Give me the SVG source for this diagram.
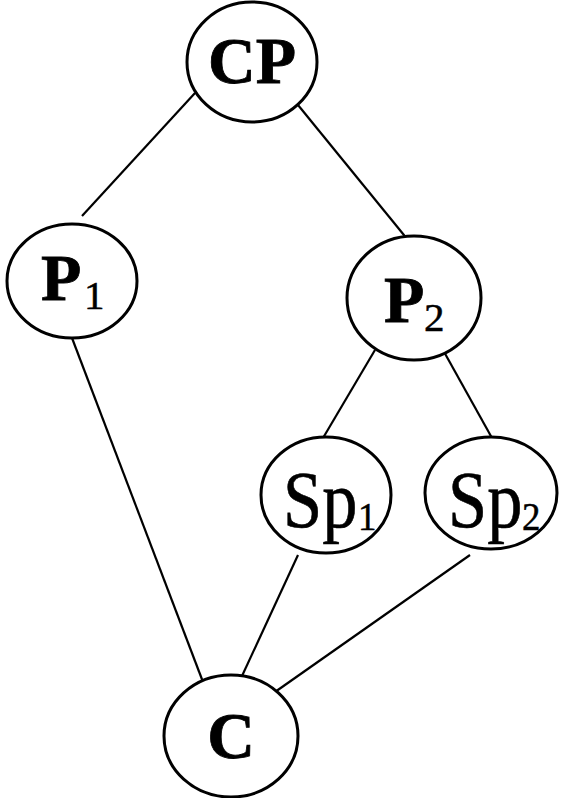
<svg xmlns="http://www.w3.org/2000/svg" width="568" height="798" viewBox="0 0 568 798">
<style>
.n{fill:#fff;stroke:#000;stroke-width:3}
.e line{stroke:#000;stroke-width:2.2}
text{font-family:'Liberation Serif','Times New Roman',serif;fill:#000;stroke:#000}
.b{font-weight:bold;font-size:66px;stroke-width:0.8}
.r{font-size:80px;stroke-width:0.6}
.s{font-size:41px;stroke-width:0.5}
</style>
<rect width="568" height="798" fill="#fff"/>
<g class="e" id="edges">
<line x1="195" y1="93" x2="82" y2="216"/>
<line x1="298" y1="105" x2="408" y2="240"/>
<line x1="72" y1="338" x2="203" y2="682"/>
<line x1="375" y1="350" x2="323" y2="438"/>
<line x1="443" y1="350" x2="492" y2="438"/>
<line x1="298" y1="555" x2="242" y2="676"/>
<line x1="470" y1="555" x2="275" y2="692"/>
</g>
<g id="CP"><ellipse class="n" cx="252" cy="62" rx="65" ry="60"/><text class="b" x="252" y="83" text-anchor="middle">CP</text></g>
<g id="P1"><ellipse class="n" cx="72" cy="281" rx="65" ry="57"/><text class="b" x="41" y="300">P</text><text class="s" x="84" y="309">1</text></g>
<g id="P2"><ellipse class="n" cx="414" cy="298" rx="67" ry="62"/><text class="b" x="384" y="322">P</text><text class="s" x="424" y="331">2</text></g>
<g id="Sp1"><ellipse class="n" cx="326" cy="495" rx="65" ry="58"/><text class="r" transform="translate(283,527) scale(0.88,1)">Sp</text><text class="s" transform="translate(358,530) scale(0.9,1)">1</text></g>
<g id="Sp2"><ellipse class="n" cx="491" cy="493" rx="66" ry="56"/><text class="r" transform="translate(448,527) scale(0.88,1)">Sp</text><text class="s" transform="translate(522,530) scale(0.9,1)">2</text></g>
<g id="C"><ellipse class="n" cx="231" cy="736" rx="67" ry="61"/><text class="b" x="231" y="758" text-anchor="middle">C</text></g>
</svg>
